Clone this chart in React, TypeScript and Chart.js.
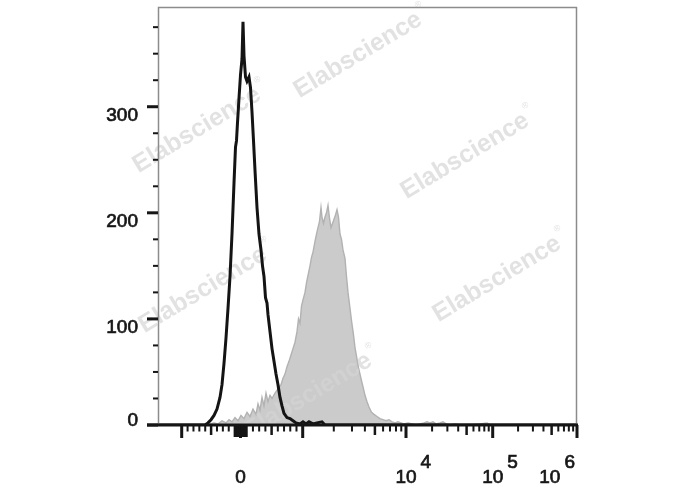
import React, { useEffect, useRef } from "react";
import { Chart, registerables } from "chart.js";

Chart.register(...registerables);

// ---------- data ----------
// Histogram bins are display channels (0 .. 419) of the biexponential axis.
const CONTROL_CHANNELS = [
  0, 47, 50, 53, 56, 59, 62, 64, 66, 68, 70, 72, 74, 76, 77.5, 78.5, 79.5, 81, 82.5, 84, 85, 86,
  87.5, 89, 91, 92.5, 94, 95.5, 97, 99, 101, 103, 104.5, 106, 107.5, 109, 110, 112, 114, 116, 118,
  120, 122, 124, 126, 129, 132, 135, 138, 142, 145, 148, 151, 155, 159, 164, 167, 419,
];
const CONTROL_COUNTS = [
  0, 0, 2, 5, 9, 15, 26, 38, 58, 82, 110, 140, 180, 228, 262, 268, 285, 308, 330, 345, 380, 348,
  328, 324, 328, 318, 295, 268, 240, 205, 180, 165, 150, 140, 120, 115, 104, 88, 72, 60, 48,
  38, 26, 18, 11, 7, 6, 4, 2, 1, 3, 1, 3, 1, 2, 3, 0, 0,
];

const STAINED_CHANNELS = [
  0, 48, 52, 56, 60, 64, 68, 71, 74, 77, 80, 83, 86, 89, 92, 95, 98, 100, 102, 104, 106, 108, 110,
  112, 114, 117, 120, 123, 125, 127, 129, 131, 133, 135, 137, 139, 140.5, 142, 143.5, 145, 147,
  148.5, 150, 152, 153.5, 155, 157, 158.5, 160, 161.5, 163, 164, 165.5, 167, 168.5, 170, 171.5,
  173, 174.5, 176, 177.5, 179, 180.5, 182, 183.5, 185, 187, 188.5, 190, 192, 193.7, 195.5, 197,
  199, 200.5, 202, 203.7, 205.5, 207, 209, 211, 213.5, 216, 219, 222, 225, 228, 231, 234, 237,
  240, 243, 246, 250, 254, 258, 262, 266, 269, 272, 275, 278, 282, 285, 288, 292, 297, 302, 312,
  322, 329, 332, 419,
];
const STAINED_COUNTS = [
  0, 0, 1, 2, 1, 4, 2, 5, 3, 7, 4, 9, 6, 12, 8, 15, 10, 20, 14, 26, 18, 30, 22,
  28, 25, 30, 34, 38, 44, 48, 55, 60, 66, 72, 78, 88, 100, 96, 112, 118, 125,
  134, 141, 150, 158, 163, 173, 180, 186, 192, 205, 196, 190, 196, 200, 207, 195,
  186, 190, 194, 198, 203, 196, 180, 175, 165, 157, 140, 125, 110, 97, 85, 73,
  62, 54, 48, 41, 34, 28, 22, 17, 12, 10, 8, 6, 5, 4, 5, 3, 2,
  3, 2, 1, 2, 1, 0, 1, 2, 3, 2, 3, 1, 2, 3, 1, 0, 1, 0, 0,
  1, 2, 0, 0,
];

// y axis
const Y_MAX = 394;
const Y_MAJOR_TICKS = [0, 100, 200, 300];
const Y_MINOR_TICKS = [25, 50, 75, 125, 150, 175, 225, 250, 275, 325, 350, 375];

// x axis: biexponential display, anchor values and their display channels
const X_CHANNEL_MAX = 419;
const X_ANCHOR_VALUES = [-1000, 0, 1000, 1e4, 1e5, 1e6];
const X_ANCHOR_CHANNELS = [23.7, 82.5, 144.7, 248, 334.7, 419];

const X_MAJOR_TICKS = [-1000, 0, 1000, 1e4, 1e5, 1e6];
const X_ZERO_BLOCK_TICKS = [-100, -80, -60, -40, -20, 20, 40, 60, 80, 100];
const X_MEDIUM_TICKS = [-500, 500, 5e3, 5e4, 5e5];
const X_MINOR_TICKS = [
  -900, -800, -700, -600, -400, -300, -200, 200, 300, 400, 600, 700, 800, 900,
  2e3, 3e3, 4e3, 6e3, 7e3, 8e3, 9e3,
  2e4, 3e4, 4e4, 6e4, 7e4, 8e4, 9e4,
  2e5, 3e5, 4e5, 6e5, 7e5, 8e5, 9e5,
];
const X_LABEL_VALUES = [0, 1e4, 1e5, 1e6];
const X_LABEL_EXPONENTS = ["", "4", "5", "6"];

const WATERMARK_TEXT = "Elabscience";

function toChannel(v: number): number {
  const n = X_ANCHOR_VALUES.length;
  for (let i = 0; i < n - 1; i++) {
    const a = X_ANCHOR_VALUES[i];
    const b = X_ANCHOR_VALUES[i + 1];
    if (v <= b || i === n - 2) {
      const ca = X_ANCHOR_CHANNELS[i];
      const cb = X_ANCHOR_CHANNELS[i + 1];
      let t: number;
      if (a > 0) t = (Math.log10(v) - Math.log10(a)) / (Math.log10(b) - Math.log10(a));
      else t = (v - a) / (b - a);
      return ca + t * (cb - ca);
    }
  }
  return 0;
}

const FONT = '"Liberation Sans", Arial, Helvetica, sans-serif';
const INK = "#161616";

function heavyText(ctx: CanvasRenderingContext2D, s: string, x: number, y: number) {
  ctx.fillText(s, x, y);
  ctx.strokeText(s, x, y);
}

const watermarkPlugin = {
  id: "watermark",
  afterDatasetDraw(chart: any, args: any) {
    if (args.index !== 1) return;
    const ctx = chart.ctx as CanvasRenderingContext2D;
    const spots = [
      [358, 55],
      [197, 130],
      [465, 156],
      [497, 279],
      [203, 290],
      [308, 396],
    ];
    ctx.save();
    ctx.beginPath();
    ctx.rect(0, 0, chart.width, chart.chartArea.bottom - 1);
    ctx.clip();
    ctx.fillStyle = "rgba(212,212,212,0.68)";
    for (const [cx, cy] of spots) {
      ctx.save();
      ctx.translate(cx, cy);
      ctx.rotate((-31 * Math.PI) / 180);
      ctx.font = `bold 25px ${FONT}`;
      ctx.textAlign = "center";
      ctx.textBaseline = "middle";
      ctx.fillText(WATERMARK_TEXT, 0, 0);
      const w = ctx.measureText(WATERMARK_TEXT).width;
      ctx.font = `9px ${FONT}`;
      ctx.textAlign = "left";
      ctx.fillText("®", w / 2 + 2, -12);
      ctx.restore();
    }
    ctx.restore();
  },
};

const axesPlugin = {
  id: "flowAxes",
  afterDatasetsDraw(chart: any) {
    const ctx = chart.ctx as CanvasRenderingContext2D;
    const { left, right, top, bottom } = chart.chartArea;
    const xs = chart.scales.x;
    const ys = chart.scales.y;
    ctx.save();
    // grey frame
    ctx.strokeStyle = "#8c8c8c";
    ctx.lineWidth = 1.5;
    ctx.beginPath();
    ctx.moveTo(left + 0.5, bottom);
    ctx.lineTo(left + 0.5, top + 0.5);
    ctx.lineTo(right - 0.5, top + 0.5);
    ctx.lineTo(right - 0.5, bottom);
    ctx.stroke();

    ctx.fillStyle = INK;
    ctx.strokeStyle = INK;
    ctx.lineWidth = 0.7;
    // bottom axis line
    ctx.fillRect(left - 11, bottom - 1.5, right - left + 12, 3);

    // y ticks
    for (const v of Y_MAJOR_TICKS) {
      const y = ys.getPixelForValue(v);
      ctx.fillRect(left - 11, y - 1.5, 11, 3);
    }
    for (const v of Y_MINOR_TICKS) {
      const y = ys.getPixelForValue(v);
      ctx.fillRect(left - 5, y - 1, 5, 2);
    }
    // y labels
    ctx.font = `19px ${FONT}`;
    ctx.textAlign = "right";
    ctx.textBaseline = "alphabetic";
    for (const v of Y_MAJOR_TICKS) {
      const y = ys.getPixelForValue(v);
      heavyText(ctx, String(v), left - 20, v === 0 ? y + 0.5 : y + 14);
    }

    // x ticks
    const xp = (v: number) => xs.getPixelForValue(toChannel(v));
    for (const v of X_MAJOR_TICKS) {
      const x = Math.min(xp(v), right);
      ctx.fillRect(x - 1.5, bottom, 3, 13);
    }
    for (const v of X_ZERO_BLOCK_TICKS) {
      ctx.fillRect(xp(v) - 1, bottom, 2, 12);
    }
    for (const v of X_MEDIUM_TICKS) {
      ctx.fillRect(xp(v) - 1.25, bottom, 2.5, 10);
    }
    for (const v of X_MINOR_TICKS) {
      ctx.fillRect(xp(v) - 1, bottom, 2, 6.5);
    }

    // x labels
    const baseY = bottom + 57.5;
    for (let i = 0; i < X_LABEL_VALUES.length; i++) {
      const v = X_LABEL_VALUES[i];
      const exp = X_LABEL_EXPONENTS[i];
      const cx = xp(v);
      ctx.font = `19px ${FONT}`;
      ctx.textAlign = "left";
      if (!exp) {
        const w = ctx.measureText("0").width;
        heavyText(ctx, "0", cx - w / 2, baseY);
        continue;
      }
      const wBase = ctx.measureText("10").width;
      const wExp = ctx.measureText(exp).width;
      let x0 = cx - wBase / 2;
      const total = wBase + 4 + wExp;
      if (x0 + total > right - 2) x0 = right - 2 - total;
      heavyText(ctx, "10", x0, baseY);
      heavyText(ctx, exp, x0 + wBase + 4, baseY - 14.5);
    }
    ctx.restore();
  },
};

export default function App() {
  const canvasRef = useRef<HTMLCanvasElement | null>(null);

  useEffect(() => {
    document.body.style.margin = "0";
    document.body.style.background = "#ffffff";
    const canvas = canvasRef.current;
    if (!canvas) return;
    const control = CONTROL_CHANNELS.map((c, i) => ({ x: c, y: CONTROL_COUNTS[i] }));
    const stained = STAINED_CHANNELS.map((c, i) => ({ x: c, y: STAINED_COUNTS[i] }));
    const chart = new Chart(canvas, {
      type: "line",
      data: {
        datasets: [
          {
            label: "Control",
            data: control,
            borderColor: "#141414",
            borderWidth: 3,
            pointRadius: 0,
            tension: 0,
            fill: false,
          },
          {
            label: "Stained",
            data: stained,
            borderColor: "#b2b2b2",
            backgroundColor: "#cbcbcb",
            borderWidth: 1.4,
            pointRadius: 0,
            tension: 0,
            fill: "origin",
          },
        ],
      },
      options: {
        responsive: false,
        animation: false,
        devicePixelRatio: 1,
        layout: { padding: { left: 158, right: 111, top: 7, bottom: 65 } },
        plugins: {
          legend: { display: false },
          tooltip: { enabled: false },
          title: { display: false },
        },
        scales: {
          x: { type: "linear", min: 0, max: X_CHANNEL_MAX, display: false },
          y: { type: "linear", min: 0, max: Y_MAX, display: false },
        },
      },
      plugins: [watermarkPlugin, axesPlugin],
    });
    return () => chart.destroy();
  }, []);

  return (
    <div style={{ width: 688, height: 490, background: "#fff" }}>
      <canvas ref={canvasRef} width={688} height={490} style={{ width: 688, height: 490, display: "block" }} />
    </div>
  );
}
